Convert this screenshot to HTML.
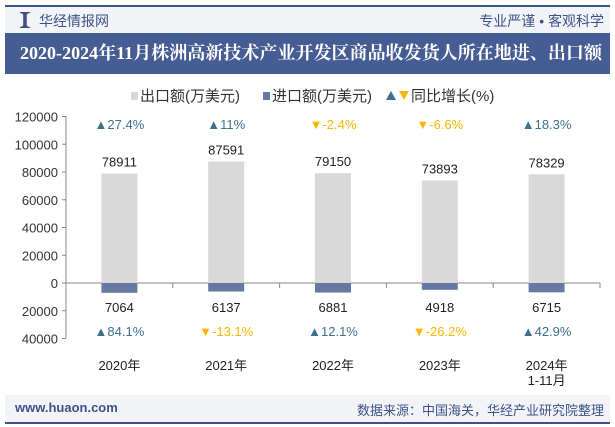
<!DOCTYPE html>
<html><head><meta charset="utf-8"><style>
body{margin:0;width:615px;height:427px;overflow:hidden;background:#fff;font-family:"Liberation Sans","Noto Sans CJK SC",sans-serif;}
#hdr{position:absolute;left:5px;top:5px;width:605px;height:27px;background:#f3f4f8;border-top:2px solid #3d5288;}
#title{position:absolute;left:5px;top:33px;width:605px;height:41px;background:#465d93;color:#fff;font-family:"Liberation Serif","Noto Serif CJK SC",serif;font-weight:bold;font-size:18px;line-height:41px;white-space:nowrap;overflow:hidden;}
#tt{display:inline-block;transform-origin:0 50%;position:absolute;left:15px;}
#ftr{position:absolute;left:5px;top:395px;width:605px;height:27px;background:#f3f4f8;border-bottom:2px solid #3d5288;}
</style></head><body>
<div id="hdr">
<span style="position:absolute;left:14px;top:5px;width:12px;height:16px;background:#3d5288;clip-path:polygon(0 0,35% 15%,35% 85%,0 100%,100% 100%,65% 85%,65% 15%,100% 0);"></span>
<span style="position:absolute;left:34px;top:4px;font-size:14px;color:#3d5288;">华经情报网</span>
<span style="position:absolute;right:6px;top:4px;font-size:14px;color:#3d5288;">专业严谨 • 客观科学</span>
</div>
<div id="title"><span id="tt">2020-2024年11月株洲高新技术产业开发区商品收发货人所在地进、出口额</span></div>
<svg id="chart" width="615" height="427" style="position:absolute;left:0;top:0"></svg>
<div id="ftr">
<span style="position:absolute;left:10px;top:5px;font-size:13px;font-weight:bold;color:#3d5288;">www.huaon.com</span>
<span style="position:absolute;right:6px;top:5px;font-size:13px;color:#3d5288;">数据来源：中国海关，华经产业研究院整理</span>
</div>
<script>
(function(){const tt=document.getElementById('tt');const w=tt.getBoundingClientRect().width;tt.style.transform='scaleX('+(582/w)+')';})();
const categories=["2020年","2021年","2022年","2023年","2024年\n1-11月"];
const exportVals=[78911,87591,79150,73893,78329];
const importVals=[7064,6137,6881,4918,6715];
const exportGrowth=[27.4,11,-2.4,-6.6,18.3];
const importGrowth=[84.1,-13.1,12.1,-26.2,42.9];
const yTicks=[120000,100000,80000,60000,40000,20000,0,20000,40000];
const yTickVals=[120000,100000,80000,60000,40000,20000,0,-20000,-40000];
const svg=document.getElementById('chart');const NS='http://www.w3.org/2000/svg';
function mk(t,a,p){const e=document.createElementNS(NS,t);for(const k in a)e.setAttribute(k,a[k]);(p||svg).appendChild(e);return e;}
const x0=66,x1=600,y0=283,k=(338-116)/160000;
const y=v=>y0-v*k;const bw=(x1-x0)/categories.length;const xc=i=>x0+bw*(i+0.5);
let g=mk('g',{});
mk('rect',{x:131,y:92,width:7,height:8,fill:'#d9d9d9'},g);
let t=mk('text',{x:140,y:101,'font-size':15,fill:'#333'},g);t.textContent='出口额(万美元)';
mk('rect',{x:263,y:92,width:7,height:8,fill:'#667aa1'},g);
t=mk('text',{x:272,y:101,'font-size':15,fill:'#333'},g);t.textContent='进口额(万美元)';
mk('path',{d:'M386 100 L391 91 L396 100Z',fill:'#3e6f8f'},g);
mk('path',{d:'M399 91 L409 91 L404 100Z',fill:'#f5b800'},g);
t=mk('text',{x:411,y:101,'font-size':15,fill:'#333'},g);t.textContent='同比增长(%)';
let ax=mk('line',{x1:x0,y1:116,x2:x0,y2:338,stroke:'#888'});
ax=mk('line',{x1:x0,y1:y0,x2:x1,y2:y0,stroke:'#888'});
for(let i=0;i<=categories.length;i++){mk('line',{x1:x0+bw*i,y1:y0,x2:x0+bw*i,y2:y0+5,stroke:'#888'});}
yTickVals.forEach((v,i)=>{mk('line',{x1:x0-4,y1:y(v),x2:x0,y2:y(v),stroke:'#888'});
const l=mk('text',{x:x0-8,y:y(v)+5,'font-size':13,fill:'#333','text-anchor':'end'});
l.textContent=yTicks[i];});
categories.forEach((c,i)=>{const cx=xc(i);
const b=mk('rect',{x:cx-18,y:y(exportVals[i]),width:36,height:y0-y(exportVals[i]),fill:'#d9d9d9'});

const b2=mk('rect',{x:cx-18,y:y0,width:36,height:y(-importVals[i])-y0,fill:'#667aa1'});

let l=mk('text',{x:cx,y:y(exportVals[i])-7,'font-size':13,fill:'#222','text-anchor':'middle'});l.textContent=exportVals[i];

l=mk('text',{x:cx,y:312,'font-size':13,fill:'#222','text-anchor':'middle'});l.textContent=importVals[i];

[[exportGrowth[i],129],[importGrowth[i],336]].forEach(([gv,yy])=>{const up=gv>=0;
const col=up?'#3e6f8f':'#f5b800';
l=mk('text',{x:cx,y:yy,'font-size':13,fill:col,'text-anchor':'middle'});

l.textContent=(up?'▲':'▼')+gv+'%';});
const parts=c.split('\n');parts.forEach((p,j)=>{l=mk('text',{x:cx,y:370+j*15,'font-size':13,fill:'#222','text-anchor':'middle'});
l.textContent=p;});
});
</script>
</body></html>
